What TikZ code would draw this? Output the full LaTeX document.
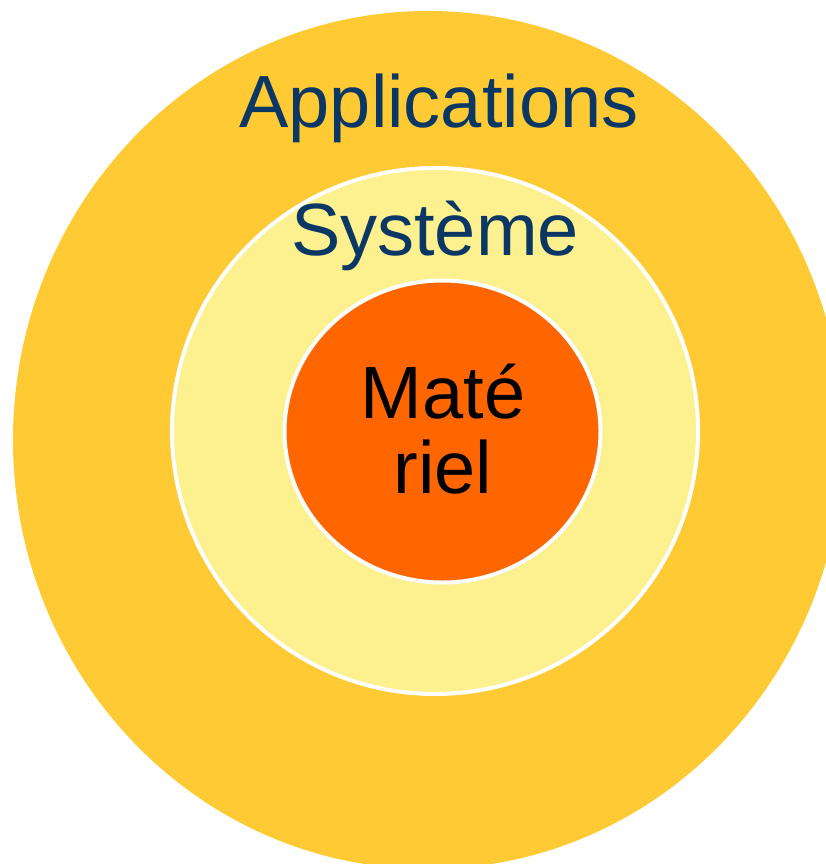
\documentclass[tikz,border=0pt]{standalone}
\usepackage{fontspec}
\setmainfont{Liberation Sans}
\usepackage{tikz}
\usetikzlibrary{shapes.geometric}
\definecolor{appli}{RGB}{255,202,51}
\definecolor{systeme}{RGB}{252,240,143}
\definecolor{materiel}{RGB}{255,102,0}
\definecolor{bleu}{RGB}{10,55,100}
\tikzset{
  couche/.style={ellipse, inner sep=0pt},
  titre/.style={font=\fontsize{74}{75}\selectfont, anchor=base}
}

\begin{document}
\begin{tikzpicture}[x=1pt,y=-1pt]
\useasboundingbox (0,0) rectangle (826,864);
\clip (0,0) rectangle (826,864);
% couches
\node[couche, fill=appli, minimum width=830pt, minimum height=858pt] (app) at (428,440) {};
\node[couche, fill=systeme, draw=white, line width=4pt, minimum width=526pt, minimum height=526pt] (sys) at (435,431) {};
\node[couche, fill=materiel, draw=white, line width=4pt, minimum width=316pt, minimum height=302pt] (mat) at (442.5,431.5) {};
% textes
\node[titre, text=bleu] (tapp) at (439,128) {Applications};
\node[titre, text=bleu] (tsys) at (435,255) {Système};
\node[titre, text=black, align=center] (tmat) at (443,493) {Maté\\riel};
\end{tikzpicture}
\end{document}
